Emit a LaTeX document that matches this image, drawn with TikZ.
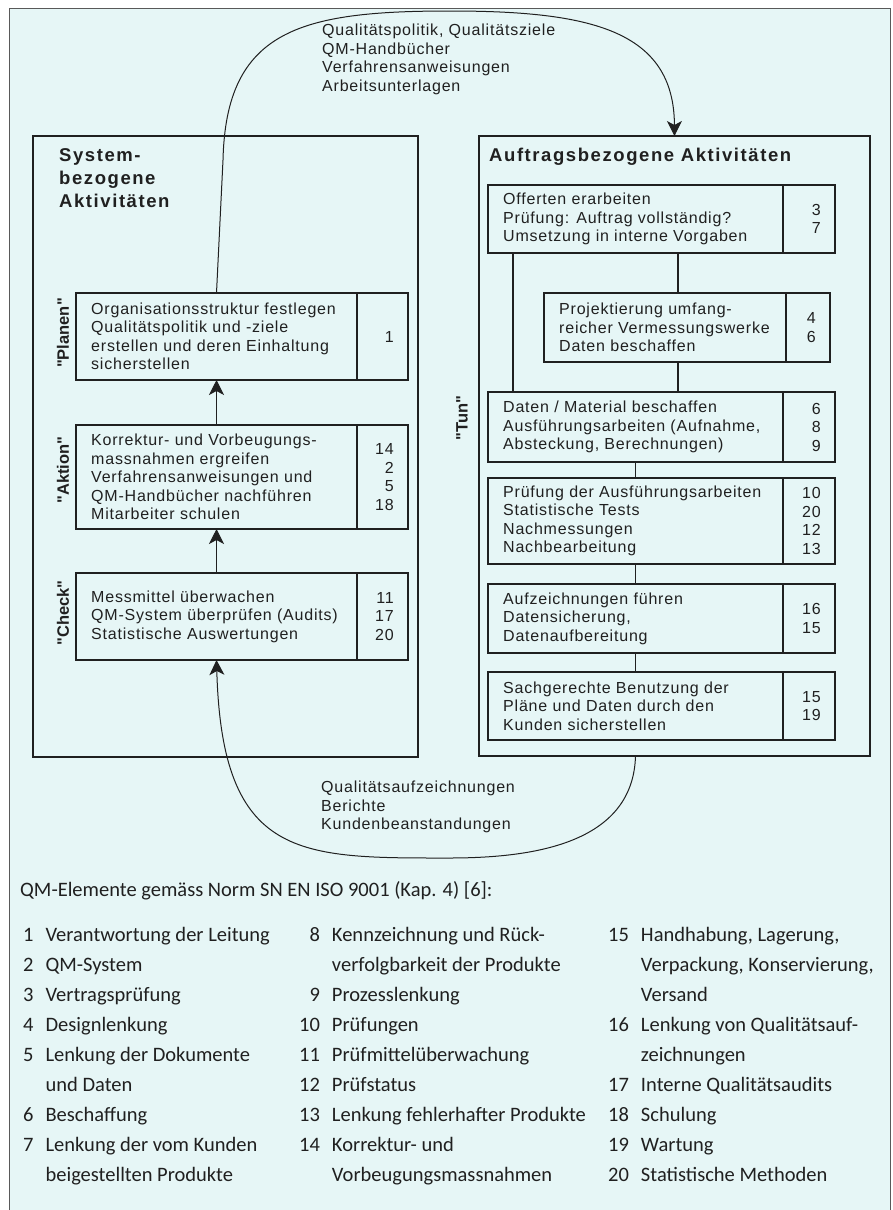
\documentclass[tikz,border=0pt]{standalone}
\usepackage{fontspec}
\setmainfont{Liberation Sans}
\newfontfamily\boxfam[LetterSpace=5.0]{Liberation Sans}
\newfontfamily\headfam[LetterSpace=8.5]{Liberation Sans}
\newfontfamily\phasefam[Ligatures=TeXOff]{Liberation Sans}
\newfontfamily\legfam{Carlito}
\usetikzlibrary{arrows.meta,positioning}
\definecolor{paper}{RGB}{230,246,246}
\definecolor{ink}{RGB}{32,32,32}
\tikzset{frame/.style={draw=ink,line width=1.3pt,anchor=north west,inner sep=0pt,outer sep=0pt},
         txt/.style={inner sep=0pt,align=left,text=ink,font=\boxfam\fontsize{16}{18.5}\selectfont},
         flow/.style={-{Stealth[length=15pt,width=15pt,inset=4pt]},line width=1pt,draw=ink},
         link/.style={line width=1.1pt,draw=ink},
         phase/.style={rotate=90,inner sep=0pt,text=ink,font=\phasefam\bfseries\fontsize{16.5}{18}\selectfont},
         head/.style={anchor=north west,inner sep=0pt,align=left,text=ink,font=\headfam\bfseries\fontsize{18.5}{23}\selectfont},
         legend/.style={anchor=north west,inner sep=0pt,text=ink,font=\legfam\fontsize{20.5}{30}\selectfont}}
% box with number column: name, x, y, text width, number width, height, text, numbers
\newcommand\qmbox[8]{%
  \node[frame,minimum width=#4pt,minimum height=#6pt] (#1) at (#2,#3) {};
  \node[frame,minimum width=#5pt,minimum height=#6pt] (#1n) at (#1.north east) {};
  \node[txt,right=15pt of #1.west] {#7};
  \node[txt,align=right,left=14pt of #1n.east] {#8};}

\begin{document}
\begin{tikzpicture}[x=1pt,y=-1pt]
  \useasboundingbox (0,0) rectangle (892,1210);
  \fill[paper] (9,8) rectangle (890,1216);
  \draw[gray!70!black,line width=.9pt] (9,1216) -- (9,8) -- (890,8) -- (890,1216);

  \node[frame,minimum width=385pt,minimum height=621pt] (system) at (33,136) {};
  \node[frame,minimum width=391pt,minimum height=620pt] (auftrag) at (479,136) {};
  \node[head] at (59,148) {System-\\bezogene\\Aktivitäten};
  \node[head] at (489,148) {Auftragsbezogene Aktivitäten};

  \qmbox{planen}{76}{293}{281}{51}{87}{Organisationsstruktur festlegen\\Qualitätspolitik und -ziele\\erstellen und deren Einhaltung\\sicherstellen}{1}
  \qmbox{aktion}{76}{425}{281}{51}{104}{Korrektur- und Vorbeugungs-\\massnahmen ergreifen\\Verfahrensanweisungen und\\QM-Handbücher nachführen\\Mitarbeiter schulen}{14\\2\\5\\18}
  \qmbox{check}{76}{573}{281}{51}{87}{Messmittel überwachen\\QM-System überprüfen (Audits)\\Statistische Auswertungen}{11\\17\\20}

  \qmbox{offerte}{488}{185}{295}{52}{68}{Offerten erarbeiten\\Prüfung: Auftrag vollständig?\\Umsetzung in interne Vorgaben}{3\\7}
  \qmbox{projekt}{544}{293}{242}{44}{69}{Projektierung umfang-\\reicher Vermessungswerke\\Daten beschaffen}{4\\6}
  \qmbox{daten}{488}{392}{295}{52}{70}{Daten / Material beschaffen\\Ausführungsarbeiten (Aufnahme,\\Absteckung, Berechnungen)}{6\\8\\9}
  \qmbox{pruef}{488}{478}{295}{52}{86}{Prüfung der Ausführungsarbeiten\\Statistische Tests\\Nachmessungen\\Nachbearbeitung}{10\\20\\12\\13}
  \qmbox{aufz}{488}{584}{295}{52}{69}{Aufzeichnungen führen\\Datensicherung,\\Datenaufbereitung}{16\\15}
  \qmbox{sach}{488}{672}{295}{52}{68}{Sachgerechte Benutzung der\\Pläne und Daten durch den\\Kunden sicherstellen}{15\\19}

  \node[phase] at (63,333) {"Planen"};
  \node[phase] at (63,470) {"Aktion"};
  \node[phase] at (63,613) {"Check"};
  \node[phase] at (462,418) {"Tun"};

  \draw[flow] (aktion.north) -- (planen.south);
  \draw[flow] (check.north) -- (aktion.south);

  \coordinate (lrail) at ([xshift=25pt]offerte.south west);
  \coordinate (rrail) at ([xshift=134pt]projekt.north west);
  \draw[link] (lrail) -- (lrail |- daten.north);
  \draw[link] (rrail |- offerte.south) -- (rrail);
  \draw[link] (rrail |- projekt.south) -- (rrail |- daten.north);
  \draw[link] (daten.south) -- (pruef.north);
  \draw[link] (pruef.south) -- (aufz.north);
  \draw[link] (aufz.south) -- (sach.north);

  % documents down, records back
  \draw[flow] (planen.north) -- (223,160) .. controls (226,30) and (300,11) .. (450,11)
    .. controls (590,11) and (674,30) .. (auftrag.north);
  \draw[flow] (sach.south |- auftrag.south) .. controls (633,845) and (530,858) .. (449,858)
    .. controls (300,858) and (222,860) .. (check.south);
  \node[txt,anchor=north west] (docnote) at (322,24) {Qualitätspolitik, Qualitätsziele\\QM-Handbücher\\Verfahrensanweisungen\\Arbeitsunterlagen};
  \node[txt,anchor=north west] (recnote) at (321,781) {Qualitätsaufzeichnungen\\Berichte\\Kundenbeanstandungen};

  \node[legend,anchor=base west] (legtitle) at (20,896.5) {QM-Elemente gemäss Norm SN EN ISO 9001 (Kap. 4) [6]:};
  \node[legend] (leg1) at (23,920.5) {\begin{tabular}{@{}r@{\hspace{12pt}}l@{}}
    1&Verantwortung der Leitung\\2&QM-System\\3&Vertragsprüfung\\4&Designlenkung\\
    5&Lenkung der Dokumente\\&und Daten\\6&Beschaffung\\7&Lenkung der vom Kunden\\&beigestellten Produkte\end{tabular}};
  \node[legend] (leg2) at (299,920.5) {\begin{tabular}{@{}r@{\hspace{12pt}}l@{}}
    8&Kennzeichnung und Rück-\\&verfolgbarkeit der Produkte\\9&Prozesslenkung\\10&Prüfungen\\
    11&Prüfmittelüberwachung\\12&Prüfstatus\\13&Lenkung fehlerhafter Produkte\\14&Korrektur- und\\&Vorbeugungsmassnahmen\end{tabular}};
  \node[legend] (leg3) at (608,920.5) {\begin{tabular}{@{}r@{\hspace{12pt}}l@{}}
    15&Handhabung, Lagerung,\\&Verpackung, Konservierung,\\&Versand\\16&Lenkung von Qualitätsauf-\\
    &zeichnungen\\17&Interne Qualitätsaudits\\18&Schulung\\19&Wartung\\20&Statistische Methoden\end{tabular}};
\end{tikzpicture}
\end{document}
